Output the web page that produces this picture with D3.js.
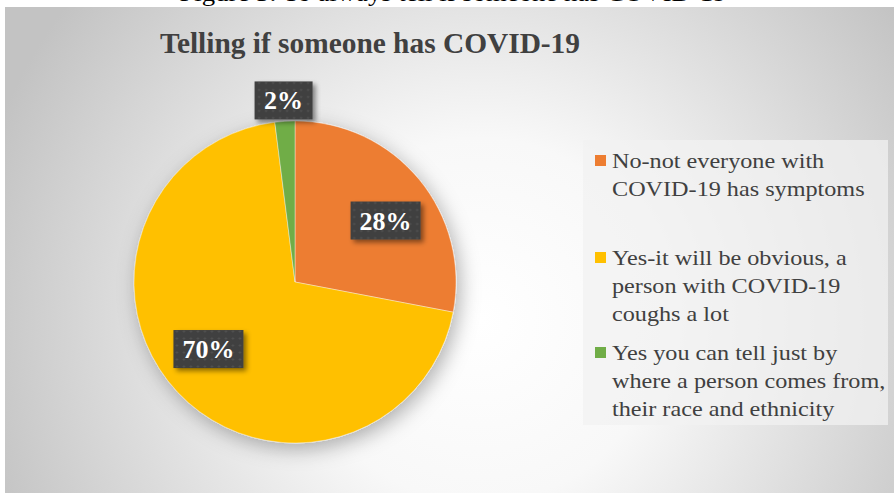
<!DOCTYPE html>
<html>
<head>
<meta charset="utf-8">
<script src="https://cdn.jsdelivr.net/npm/d3@7/dist/d3.min.js"></script>
<style>
  html, body { margin: 0; padding: 0; background: #fff; }
  svg { display: block; }
  text { font-family: "Liberation Serif", "Times New Roman", Times, serif; }
</style>
</head>
<body>
<svg id="chart" width="894" height="493"></svg>
<script>
// Survey answers to "can you always tell if someone has COVID-19?"
const categories = [
  "No-not everyone with COVID-19 has symptoms",
  "Yes-it will be obvious, a person with COVID-19 coughs a lot",
  "Yes you can tell just by where a person comes from, their race and ethnicity"
];
const values = [28, 70, 2];
const labels = ["28%", "70%", "2%"];
const legendLines = [
  ["No-not everyone with", "COVID-19 has symptoms"],
  ["Yes-it will be obvious, a", "person with COVID-19", "coughs a lot"],
  ["Yes you can tell just by", "where a person comes from,", "their race and ethnicity"]
];
const colors = ["#ED7D31", "#FFC000", "#70AD47"];

const svg = d3.select("#chart");
const W = 894, H = 493;

const defs = svg.append("defs");

// Radial background fill: white centre fading to grey edges
const bg = defs.append("radialGradient").attr("id", "bgGrad")
  .attr("gradientUnits", "userSpaceOnUse")
  .attr("cx", 480).attr("cy", 320).attr("r", 520);
bg.append("stop").attr("offset", "0%").attr("stop-color", "#ffffff");
bg.append("stop").attr("offset", "35%").attr("stop-color", "#f8f8f8");
bg.append("stop").attr("offset", "100%").attr("stop-color", "#c3c3c3");

// Soft shadow under the pie
const pieShadow = defs.append("filter").attr("id", "pieShadow")
  .attr("x", "-20%").attr("y", "-20%").attr("width", "150%").attr("height", "150%");
pieShadow.append("feDropShadow").attr("dx", 4).attr("dy", 6)
  .attr("stdDeviation", 10).attr("flood-color", "#000").attr("flood-opacity", 0.3);

// Shadow for the value label boxes
const boxShadow = defs.append("filter").attr("id", "boxShadow")
  .attr("x", "-30%").attr("y", "-30%").attr("width", "170%").attr("height", "170%");
boxShadow.append("feDropShadow").attr("dx", 3).attr("dy", 3)
  .attr("stdDeviation", 2.5).attr("flood-color", "#000").attr("flood-opacity", 0.45);

// Dotted texture for label boxes
const dots = defs.append("pattern").attr("id", "dots")
  .attr("patternUnits", "userSpaceOnUse").attr("width", 7).attr("height", 7);
dots.append("rect").attr("width", 7).attr("height", 7).attr("fill", "#404040");
dots.append("circle").attr("cx", 3.5).attr("cy", 3.5).attr("r", 1.1).attr("fill", "#555");

// Figure caption above the chart frame (only its lower part shows)
svg.append("text")
  .attr("x", 453).attr("y", 1)
  .attr("text-anchor", "middle")
  .attr("font-size", 24)
  .attr("textLength", 547).attr("lengthAdjust", "spacingAndGlyphs")
  .attr("fill", "#000")
  .text("Figure 3: To always tell if someone has COVID-19");

// Chart frame
svg.append("rect")
  .attr("x", 5).attr("y", 7).attr("width", W - 5).attr("height", H - 7)
  .attr("fill", "url(#bgGrad)");

// Title
svg.append("text")
  .attr("x", 160).attr("y", 53)
  .attr("font-size", 30).attr("font-weight", "bold")
  .attr("textLength", 420).attr("lengthAdjust", "spacingAndGlyphs")
  .attr("fill", "#404040")
  .text("Telling if someone has COVID-19");

// Pie
const cx = 295, cy = 282, R = 161;
const pie = d3.pie().sort(null).value(d => d)(values);
const arc = d3.arc().innerRadius(0).outerRadius(R);

const g = svg.append("g").attr("transform", `translate(${cx},${cy})`);
g.append("g").attr("filter", "url(#pieShadow)")
  .selectAll("path").data(pie).join("path")
  .attr("d", arc)
  .attr("fill", (d, i) => colors[i])
  .attr("stroke", "#fff").attr("stroke-opacity", 0.5).attr("stroke-width", 0.75);

// Value labels: inside for large slices (nudged slightly clockwise),
// outside for the small one
const nudge = 0.095;
const inner = d3.arc().innerRadius(R * 0.68).outerRadius(R * 0.68);
const outer = d3.arc().innerRadius(R * 1.13).outerRadius(R * 1.13);
const boxW = d => d.data >= 10 ? 70 : 58;
const lab = g.selectAll("g.lab").data(pie).join("g").attr("class", "lab")
  .attr("transform", d => {
    const [x, y] = d.data >= 10
      ? inner.centroid({ startAngle: d.startAngle + nudge, endAngle: d.endAngle + nudge })
      : outer.centroid(d);
    return `translate(${x},${y})`;
  });
lab.append("rect")
  .attr("x", d => -boxW(d) / 2).attr("y", -19)
  .attr("width", d => boxW(d)).attr("height", 38)
  .attr("fill", "url(#dots)")
  .attr("filter", "url(#boxShadow)");
lab.append("text")
  .attr("text-anchor", "middle").attr("y", 9)
  .attr("font-size", 26).attr("font-weight", "bold")
  .attr("fill", "#fff")
  .text((d, i) => labels[i]);

// Legend
svg.append("rect")
  .attr("x", 583).attr("y", 140).attr("width", 305).attr("height", 285)
  .attr("fill", "#f2f2f2").attr("fill-opacity", 0.75);

const legendTop = [155, 252, 347];
const lg = svg.append("g").selectAll("g").data(categories).join("g")
  .attr("transform", (d, i) => `translate(595,${legendTop[i]})`);
lg.append("rect").attr("width", 11).attr("height", 11)
  .attr("fill", (d, i) => colors[i]);
lg.append("g").attr("transform", "translate(17,0) scale(1.1,1)")
  .append("text")
  .attr("font-size", 22).attr("fill", "#404040")
  .selectAll("tspan").data((d, i) => legendLines[i]).join("tspan")
  .attr("x", 0).attr("y", (d, j) => 13 + j * 28)
  .text(d => d);
</script>
</body>
</html>
